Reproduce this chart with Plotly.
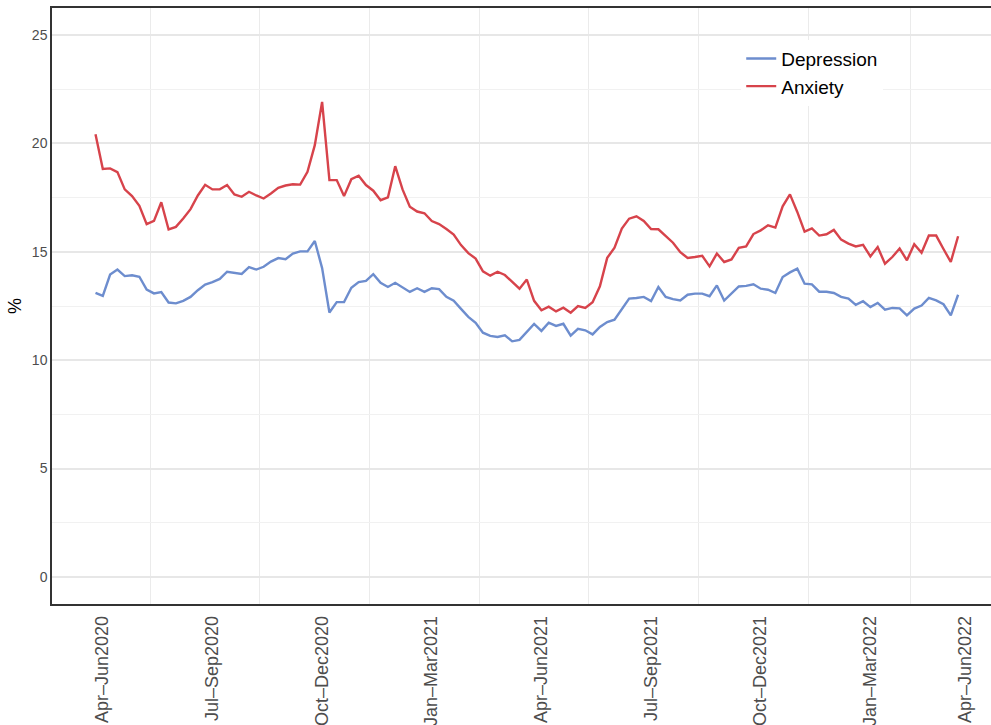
import plotly.graph_objects as go

# Weekly survey prevalence (%) of depression and anxiety symptoms
depression = [
    13.11, 12.97, 13.95, 14.18, 13.88, 13.92, 13.85, 13.26, 13.08, 13.14,
    12.66, 12.62, 12.74, 12.92, 13.23, 13.49, 13.60, 13.75, 14.08, 14.03,
    13.98, 14.29, 14.18, 14.31, 14.55, 14.71, 14.66, 14.92, 15.02, 15.02,
    15.50, 14.25, 12.20, 12.68, 12.68, 13.34, 13.60, 13.66, 13.97, 13.57,
    13.38, 13.57, 13.35, 13.15, 13.32, 13.15, 13.32, 13.28, 12.92, 12.74,
    12.37, 12.00, 11.72, 11.27, 11.12, 11.07, 11.15, 10.87, 10.94, 11.30,
    11.67, 11.35, 11.73, 11.58, 11.68, 11.13, 11.45, 11.38, 11.19, 11.53,
    11.76, 11.87, 12.33, 12.84, 12.87, 12.92, 12.73, 13.38, 12.92, 12.82,
    12.76, 13.02, 13.07, 13.07, 12.95, 13.45, 12.75, 13.07, 13.40, 13.43,
    13.50, 13.30, 13.25, 13.10, 13.84, 14.05, 14.22, 13.53, 13.50, 13.16,
    13.16, 13.10, 12.92, 12.84, 12.55, 12.72, 12.45, 12.64, 12.33, 12.41,
    12.39, 12.07, 12.38, 12.52, 12.87, 12.76, 12.58, 12.07, 13.02,
]

anxiety = [
    20.43, 18.82, 18.85, 18.68, 17.88, 17.57, 17.12, 16.28, 16.43, 17.29,
    16.03, 16.15, 16.54, 16.97, 17.60, 18.09, 17.88, 17.88, 18.08, 17.65,
    17.54, 17.77, 17.60, 17.46, 17.69, 17.95, 18.06, 18.12, 18.10, 18.69,
    19.92, 21.92, 18.31, 18.31, 17.57, 18.35, 18.51, 18.08, 17.82, 17.38,
    17.51, 18.95, 17.88, 17.08, 16.86, 16.78, 16.42, 16.28, 16.05, 15.80,
    15.31, 14.94, 14.69, 14.10, 13.90, 14.08, 13.93, 13.62, 13.30, 13.72,
    12.74, 12.30, 12.47, 12.25, 12.42, 12.19, 12.50, 12.41, 12.67, 13.41,
    14.72, 15.19, 16.07, 16.53, 16.64, 16.42, 16.05, 16.04, 15.72, 15.42,
    14.98, 14.72, 14.76, 14.82, 14.33, 14.92, 14.53, 14.65, 15.18, 15.25,
    15.82, 15.99, 16.22, 16.12, 17.10, 17.65, 16.84, 15.93, 16.08, 15.75,
    15.81, 16.01, 15.56, 15.38, 15.25, 15.32, 14.79, 15.22, 14.45, 14.76,
    15.15, 14.61, 15.35, 14.96, 15.75, 15.75, 15.13, 14.53, 15.72,
]

# Quarter labels and the observation index where each one sits
quarter_labels = [
    "Apr–Jun2020", "Jul–Sep2020", "Oct–Dec2020", "Jan–Mar2021",
    "Apr–Jun2021", "Jul–Sep2021", "Oct–Dec2021", "Jan–Mar2022", "Apr–Jun2022",
]
quarter_index = [0, 15, 30, 45, 60, 75, 90, 105, 118]

weeks = list(range(len(depression)))

# vertical grid lines halfway between labelled quarters
mid_grid = [(a + b) / 2 for a, b in zip(quarter_index[:-1], quarter_index[1:])]

BLUE = "#6d8dce"
RED = "#d7434b"
FONT = "Liberation Sans, Arial, sans-serif"

fig = go.Figure()
fig.add_trace(go.Scatter(x=weeks, y=depression, mode="lines", name="Depression",
                         line=dict(color=BLUE, width=2.4)))
fig.add_trace(go.Scatter(x=weeks, y=anxiety, mode="lines", name="Anxiety",
                         line=dict(color=RED, width=2.4)))

fig.update_layout(
    width=991, height=725,
    margin=dict(l=52, r=0, t=8, b=121),
    paper_bgcolor="white", plot_bgcolor="white",
    font=dict(family=FONT, color="#4d4d4d"),
    showlegend=True,
    legend=dict(
        x=0.734, y=0.947, xanchor="left", yanchor="top",
        bgcolor="white", borderwidth=0,
        font=dict(size=19, color="black", family=FONT),
        tracegroupgap=0,
    ),
    xaxis=dict(
        range=[-5.95, 122.5],
        tickmode="array", tickvals=quarter_index, ticktext=quarter_labels,
        tickangle=-90, tickfont=dict(size=18, color="#4d4d4d"),
        ticklabelshift=7, ticklabelstandoff=3,
        showgrid=False, zeroline=False,
        showline=True, linecolor="#333333", linewidth=1.5, mirror=True,
        ticks="",
        minor=dict(tickmode="array", tickvals=mid_grid, showgrid=True,
                   gridcolor="#ebebeb", gridwidth=1, ticks=""),
        automargin=False,
    ),
    yaxis=dict(
        range=[-1.25, 26.25],
        tickmode="array", tickvals=[0, 5, 10, 15, 20, 25],
        tickfont=dict(size=14, color="#4d4d4d"),
        showgrid=True, gridcolor="#e7e7e7", gridwidth=1.6,
        zeroline=False,
        showline=True, linecolor="#333333", linewidth=1.5, mirror=False,
        ticks="",
        minor=dict(tickmode="array", tickvals=[2.5, 7.5, 12.5, 17.5, 22.5],
                   showgrid=True, gridcolor="#f1f1f1", gridwidth=1),
        title=dict(text="%", font=dict(size=18, color="black"), standoff=6),
        automargin=False,
    ),
)

fig.write_html("out.html")
